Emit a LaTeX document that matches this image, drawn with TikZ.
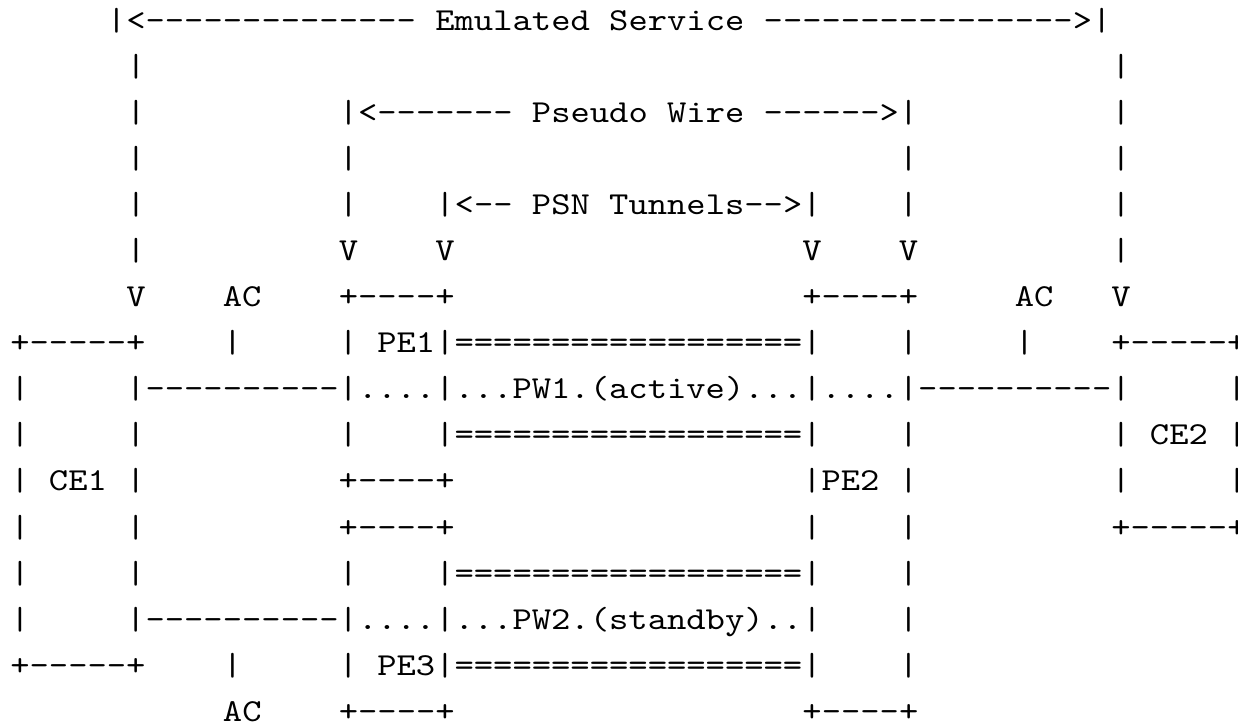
\documentclass[tikz,border=0pt]{standalone}
\usepackage{fontspec}
\setmonofont{lmmono10-regular.otf}[FakeStretch=1.15]
\newcommand\asciifont{\ttfamily\fontsize{16}{20}\selectfont\frenchspacing\obeyspaces}

\begin{document}
\begin{tikzpicture}[x=9.667pt,y=-23.05pt,
  asciirow/.style={anchor=base west, inner sep=0pt, outer sep=0pt, font=\asciifont}]
\useasboundingbox (-0.534,-0.651) rectangle (63.51,15.03);
% one node per line of the figure, placed at (column, line)
\node[asciirow] (service) at (5,0) {|<-------------- Emulated Service ---------------->|};
\node[asciirow] (r1) at (6,1) {|                                                  |};
\node[asciirow] (wire) at (6,2) {|          |<------- Pseudo Wire ------>|          |};
\node[asciirow] (r3) at (6,3) {|          |                            |          |};
\node[asciirow] (tunnels) at (6,4) {|          |    |<-- PSN Tunnels-->|    |          |};
\node[asciirow] (r5) at (6,5) {|          V    V                  V    V          |};
\node[asciirow] (r6) at (6,6) {V    AC    +----+                  +----+     AC   V};
\node[asciirow] (pe1) at (0,7) {+-----+    |     | PE1|==================|    |     |    +-----+};
\node[asciirow] (pw1) at (0,8) {|     |----------|....|...PW1.(active)...|....|----------|     |};
\node[asciirow] (ce2) at (0,9) {|     |          |    |==================|    |          | CE2 |};
\node[asciirow] (ce1) at (0,10) {| CE1 |          +----+                  |PE2 |          |     |};
\node[asciirow] (r11) at (0,11) {|     |          +----+                  |    |          +-----+};
\node[asciirow] (r12) at (0,12) {|     |          |    |==================|    |};
\node[asciirow] (pw2) at (0,13) {|     |----------|....|...PW2.(standby)..|    |};
\node[asciirow] (pe3) at (0,14) {+-----+    |     | PE3|==================|    |};
\node[asciirow] (r15) at (11,15) {AC    +----+                  +----+};
\end{tikzpicture}
\end{document}
